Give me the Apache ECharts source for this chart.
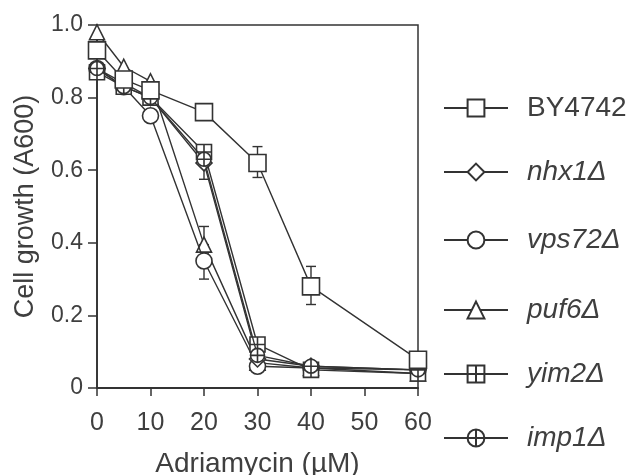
<!DOCTYPE html>
<html>
<head>
<meta charset="utf-8">
<script src="https://cdn.jsdelivr.net/npm/echarts@6/dist/echarts.min.js"></script>
<style>html,body{margin:0;padding:0;background:#fff}#c{width:633px;height:475px}</style>
</head>
<body>
<div id="c"></div>
<script>
var doses = [0, 5, 10, 20, 30, 40, 60];
var BY4742 = [0.93, 0.85, 0.82, 0.76, 0.62, 0.28, 0.078];
var nhx1 = [0.88, 0.84, 0.80, 0.62, 0.08, 0.06, 0.05];
var vps72 = [0.88, 0.83, 0.75, 0.35, 0.06, 0.055, 0.05];
var puf6 = [0.98, 0.885, 0.845, 0.395, 0.07, 0.055, 0.04];
var yim2 = [0.87, 0.83, 0.80, 0.65, 0.12, 0.05, 0.04];
var imp1 = [0.88, 0.83, 0.80, 0.63, 0.09, 0.06, 0.05];
var seriesNames = ['BY4742', 'nhx1\u0394', 'vps72\u0394', 'puf6\u0394', 'yim2\u0394', 'imp1\u0394'];
// error bars: x, low, high
var errX = [30, 40, 20, 20, 20];
var errLow = [0.58, 0.23, 0.30, 0.395, 0.575];
var errHigh = [0.665, 0.335, 0.35, 0.445, 0.65];
var xTicks = [0, 10, 20, 30, 40, 50, 60];
var yTicks = [0, 0.2, 0.4, 0.6, 0.8, 1.0];

var INK = '#333';
var TXT = '#3f3f3f';
function pairs(arr) { return doses.map(function (d, i) { return [d, arr[i]]; }); }
var symCrossSquare = 'path://M0,0H20V20H0ZM10,0V20M0,10H20';
var symCrossCircle = 'path://M10,0A10,10,0,1,1,10,20A10,10,0,1,1,10,0ZM10,0V20M0,10H20';
var defs = [
  {data: BY4742, symbol: 'rect', size: 17, z: 8},
  {data: nhx1, symbol: 'diamond', size: 16, z: 4},
  {data: vps72, symbol: 'circle', size: 16, z: 3},
  {data: puf6, symbol: 'triangle', size: 15, z: 2},
  {data: yim2, symbol: symCrossSquare, size: 15, z: 5},
  {data: imp1, symbol: symCrossCircle, size: 14, z: 6}
];
var series = defs.map(function (d, i) {
  return {
    name: seriesNames[i], type: 'line', data: pairs(d.data), symbol: d.symbol, symbolSize: d.size,
    z: d.z, showAllSymbol: true,
    lineStyle: {color: INK, width: 1.4},
    itemStyle: {color: '#fff', borderColor: INK, borderWidth: 1.6},
    emphasis: {disabled: true}, animation: false
  };
});
var errData = errX.map(function (x, i) { return [x, errLow[i], errHigh[i]]; });
series.push({
  type: 'custom', z: 1, silent: true, animation: false, data: errData,
  renderItem: function (params, api) {
    var lo = api.coord([api.value(0), api.value(1)]);
    var hi = api.coord([api.value(0), api.value(2)]);
    var w = 5;
    var st = {stroke: INK, lineWidth: 1.4};
    return {type: 'group', children: [
      {type: 'line', shape: {x1: lo[0], y1: lo[1], x2: hi[0], y2: hi[1]}, style: st},
      {type: 'line', shape: {x1: lo[0] - w, y1: lo[1], x2: lo[0] + w, y2: lo[1]}, style: st},
      {type: 'line', shape: {x1: hi[0] - w, y1: hi[1], x2: hi[0] + w, y2: hi[1]}, style: st}
    ]};
  }
});
var legendCenters = [108, 172, 240, 310, 374, 438];
var legends = seriesNames.map(function (n, i) {
  return {
    data: [n], left: 443, top: legendCenters[i] - 15, orient: 'vertical', padding: 0,
    itemWidth: 64, itemHeight: 21, selectedMode: false,
    textStyle: {fontFamily: 'Liberation Sans', fontSize: 28, color: TXT, lineHeight: 30,
      fontStyle: i === 0 ? 'normal' : 'italic', padding: [0, 0, 0, 14]}
  };
});
var chart = echarts.init(document.getElementById('c'), null, {renderer: 'canvas'});
chart.setOption({
  backgroundColor: '#fff',
  animation: false,
  grid: {left: 97, top: 25, right: 215, bottom: 87, containLabel: false, outerBoundsMode: 'none',
    show: true, borderColor: INK, borderWidth: 1.5, backgroundColor: 'transparent'},
  legend: legends,
  xAxis: {
    type: 'value', min: 0, max: 60, interval: 10,
    name: 'Adriamycin (\u00b5M)', nameLocation: 'middle', nameGap: 62,
    nameTextStyle: {fontFamily: 'Liberation Sans', fontSize: 28, color: TXT},
    axisLine: {show: true, lineStyle: {color: INK, width: 1.8}},
    axisTick: {show: true, length: 8, lineStyle: {color: INK, width: 1.5}},
    axisLabel: {margin: 23, fontFamily: 'Liberation Sans', fontSize: 25, color: TXT,
      formatter: function (v) { return xTicks.indexOf(v) >= 0 ? String(v) : ''; }},
    splitLine: {show: false}
  },
  yAxis: {
    type: 'value', min: 0, max: 1, interval: 0.2,
    name: 'Cell growth (A600)', nameLocation: 'middle', nameGap: 58,
    nameTextStyle: {fontFamily: 'Liberation Sans', fontSize: 27, color: TXT},
    axisLine: {show: true, lineStyle: {color: INK, width: 1.8}},
    axisTick: {show: true, length: 9, lineStyle: {color: INK, width: 1.5}},
    axisLabel: {margin: 14, fontFamily: 'Liberation Sans', fontSize: 23, color: TXT,
      formatter: function (v) {
        var t = yTicks.filter(function (y) { return Math.abs(y - v) < 1e-6; });
        if (!t.length) return '';
        return t[0] === 0 ? '0' : t[0].toFixed(1);
      }},
    splitLine: {show: false}
  },
  series: series
});
</script>
</body>
</html>
